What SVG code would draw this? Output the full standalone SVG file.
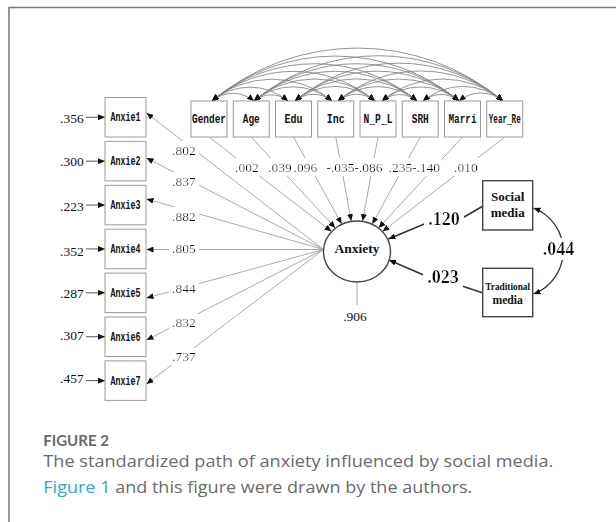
<svg xmlns="http://www.w3.org/2000/svg" width="616" height="522" viewBox="0 0 616 522">
<defs>
<style>
.box{fill:#fff;stroke:#9a9a9a;stroke-width:1}
.sbox{fill:#fff;stroke:#444;stroke-width:1.4}
.mono{font-family:"Liberation Mono","DejaVu Sans Mono",monospace;font-weight:bold;font-size:12.5px;fill:#111;text-anchor:middle}
.num{font-family:"Liberation Serif","Times New Roman",serif;font-size:13.5px;fill:#111}
.bnum{font-family:"Liberation Serif","Times New Roman",serif;font-size:18px;font-weight:bold;fill:#111}
.bold{font-family:"Liberation Serif","Times New Roman",serif;font-weight:bold;fill:#111;text-anchor:middle}
.lbl{filter:url(#bg)}
.lbl0{filter:url(#bg0)}
.arc{fill:none;stroke:#7a7a7a;stroke-width:0.8;marker-start:url(#ah);marker-end:url(#ah)}
.path{fill:none;stroke:#aaa;stroke-width:1;marker-end:url(#ah)}
.strong{fill:none;stroke:#333;stroke-width:1.5;marker-end:url(#ah)}
.err{fill:none;stroke:#555;stroke-width:1;marker-end:url(#ah)}
.cap{font-family:"Open Sans",Lato,"Liberation Sans",sans-serif;font-size:16.5px;fill:#6a6a6a}
</style>
<marker id="ah" viewBox="0 0 7 6" refX="7" refY="3" markerWidth="7" markerHeight="6" markerUnits="userSpaceOnUse" orient="auto-start-reverse">
<path d="M0,0 L7,3 L0,6 z" fill="#111"/>
</marker>
<filter id="bg" x="-0.12" y="-0.05" width="1.24" height="1.1">
<feFlood flood-color="#fff"/>
<feComposite in="SourceGraphic" operator="over"/>
</filter>
<filter id="bg0" x="0" y="-0.05" width="1" height="1.1">
<feFlood flood-color="#fff"/>
<feComposite in="SourceGraphic" operator="over"/>
</filter>
</defs>
<rect width="616" height="522" fill="#fff"/>
<path d="M9,522 V7.5 H616" fill="none" stroke="#777" stroke-width="1.5"/>

<g id="connectors">
<path class="arc" d="M212,101 A32.7,32.7 0 0 1 254,101"/>
<path class="arc" d="M212,101 A59.1,59.1 0 0 1 288,101"/>
<path class="arc" d="M212,101 A93.4,93.4 0 0 1 332,101"/>
<path class="arc" d="M212,101 A126.8,126.8 0 0 1 375,101"/>
<path class="arc" d="M212,101 A159.5,159.5 0 0 1 417,101"/>
<path class="arc" d="M212,101 A192.2,192.2 0 0 1 459,101"/>
<path class="arc" d="M212,101 A226.4,226.4 0 0 1 503,101"/>
<path class="arc" d="M254,101 A26.5,26.5 0 0 1 288,101"/>
<path class="arc" d="M254,101 A60.7,60.7 0 0 1 332,101"/>
<path class="arc" d="M254,101 A94.1,94.1 0 0 1 375,101"/>
<path class="arc" d="M254,101 A126.8,126.8 0 0 1 417,101"/>
<path class="arc" d="M254,101 A159.5,159.5 0 0 1 459,101"/>
<path class="arc" d="M254,101 A193.7,193.7 0 0 1 503,101"/>
<path class="arc" d="M295,101 A28.8,28.8 0 0 1 332,101"/>
<path class="arc" d="M295,101 A62.2,62.2 0 0 1 375,101"/>
<path class="arc" d="M295,101 A94.9,94.9 0 0 1 417,101"/>
<path class="arc" d="M295,101 A127.6,127.6 0 0 1 459,101"/>
<path class="arc" d="M295,101 A161.8,161.8 0 0 1 503,101"/>
<path class="arc" d="M338,101 A28.8,28.8 0 0 1 375,101"/>
<path class="arc" d="M338,101 A61.5,61.5 0 0 1 417,101"/>
<path class="arc" d="M338,101 A94.1,94.1 0 0 1 459,101"/>
<path class="arc" d="M338,101 A128.4,128.4 0 0 1 503,101"/>
<path class="arc" d="M382,101 A27.2,27.2 0 0 1 417,101"/>
<path class="arc" d="M382,101 A59.9,59.9 0 0 1 459,101"/>
<path class="arc" d="M382,101 A94.1,94.1 0 0 1 503,101"/>
<path class="arc" d="M423,101 A28,28 0 0 1 459,101"/>
<path class="arc" d="M423,101 A62.2,62.2 0 0 1 503,101"/>
<path class="arc" d="M459,101 A34.2,34.2 0 0 1 503,101"/>
<path class="path" d="M209,137 L331.5,231.5"/>
<path class="path" d="M251.25,137 L335.3,228"/>
<path class="path" d="M293.5,137 L341.7,224"/>
<path class="path" d="M335.75,137 L351.3,221"/>
<path class="path" d="M378,137 L362.6,221"/>
<path class="path" d="M420.25,137 L372.3,224"/>
<path class="path" d="M462.5,137 L378.6,228"/>
<path class="path" d="M504.75,137 L382.5,231.5"/>
<path class="path" d="M323.5,249.5 L146.5,113"/>
<path class="path" d="M323.5,249.5 L146.5,158"/>
<path class="path" d="M323.5,249.5 L146.5,199"/>
<path class="path" d="M323.5,249.5 L146.5,249.5"/>
<path class="path" d="M323.5,249.5 L146.5,298"/>
<path class="path" d="M323.5,249.5 L146.5,340"/>
<path class="path" d="M323.5,249.5 L146.5,384"/>
<path class="err" d="M86,117.25 L105,117.25"/>
<path class="err" d="M86,161.15 L105,161.15"/>
<path class="err" d="M86,205.05 L105,205.05"/>
<path class="err" d="M86,248.95 L105,248.95"/>
<path class="err" d="M86,292.85 L105,292.85"/>
<path class="err" d="M86,336.75 L105,336.75"/>
<path class="err" d="M86,380.65 L105,380.65"/>
<path d="M357,282 L357,305" fill="none" stroke="#aaa" stroke-width="1"/>
<path class="strong" d="M483,206 L459,220 M429,222 L388.5,239"/>
<path class="strong" d="M483,293 L459,285 M427,276.5 L389,260"/>
<path class="arc" style="stroke:#333;stroke-width:1.3" d="M533.5,208 A46,46 0 0 1 533.5,294"/>
</g>

<g id="connector-labels">
<text class="num lbl0" x="235" y="171.5">.002</text>
<text class="num lbl0" x="268" y="171.5">.039</text>
<text class="num lbl0" x="293.5" y="171.5">.096</text>
<text class="num lbl0" x="326.5" y="171.5">-.035</text>
<text class="num lbl0" x="354.5" y="171.5">-.086</text>
<text class="num lbl0" x="388.5" y="171.5">.235</text>
<text class="num lbl0" x="412" y="171.5">-.140</text>
<text class="num lbl0" x="454" y="171.5">.010</text>
<text class="num lbl" x="172" y="154.5">.802</text>
<text class="num lbl" x="172" y="185.5">.837</text>
<text class="num lbl" x="172" y="220.5">.882</text>
<text class="num lbl" x="172" y="253">.805</text>
<text class="num lbl" x="172" y="293">.844</text>
<text class="num lbl" x="172" y="327">.832</text>
<text class="num lbl" x="172" y="361">.737</text>
<text class="num" x="60" y="122.8">.356</text>
<text class="num" x="60" y="166.2">.300</text>
<text class="num" x="60" y="210.5">.223</text>
<text class="num" x="60" y="255.5">.352</text>
<text class="num" x="60" y="297.8">.287</text>
<text class="num" x="60" y="339.5">.307</text>
<text class="num" x="60" y="382.8">.457</text>
<text class="num" x="355" y="320.5" text-anchor="middle">.906</text>
<text class="bnum lbl" x="428.3" y="225">.120</text>
<text class="bnum lbl" x="427.3" y="283">.023</text>
<text class="bnum lbl" x="542.7" y="255">.044</text>
</g>

<g id="node-gender"><rect class="box" x="191" y="101" width="36" height="36"/><text class="mono" x="209" y="123" textLength="34" lengthAdjust="spacingAndGlyphs">Gender</text></g>
<g id="node-age"><rect class="box" x="233.25" y="101" width="36" height="36"/><text class="mono" x="251.25" y="123" textLength="17" lengthAdjust="spacingAndGlyphs">Age</text></g>
<g id="node-edu"><rect class="box" x="275.5" y="101" width="36" height="36"/><text class="mono" x="293.5" y="123" textLength="18" lengthAdjust="spacingAndGlyphs">Edu</text></g>
<g id="node-inc"><rect class="box" x="317.75" y="101" width="36" height="36"/><text class="mono" x="335.75" y="123" textLength="18" lengthAdjust="spacingAndGlyphs">Inc</text></g>
<g id="node-npl"><rect class="box" x="360" y="101" width="36" height="36"/><text class="mono" x="378" y="123" textLength="29" lengthAdjust="spacingAndGlyphs">N_P_L</text></g>
<g id="node-srh"><rect class="box" x="402.25" y="101" width="36" height="36"/><text class="mono" x="420.25" y="123" textLength="17" lengthAdjust="spacingAndGlyphs">SRH</text></g>
<g id="node-marri"><rect class="box" x="444.5" y="101" width="36" height="36"/><text class="mono" x="462.5" y="123" textLength="28" lengthAdjust="spacingAndGlyphs">Marri</text></g>
<g id="node-yearre"><rect class="box" x="486.75" y="101" width="36" height="36"/><text class="mono" x="504.75" y="123" textLength="32" lengthAdjust="spacingAndGlyphs">Year_Re</text></g>

<g id="node-anxie1"><rect class="box" x="105" y="97.5" width="41" height="39.5"/><text class="mono" x="125.5" y="121.25" textLength="30" lengthAdjust="spacingAndGlyphs">Anxie1</text></g>
<g id="node-anxie2"><rect class="box" x="105" y="141.4" width="41" height="39.5"/><text class="mono" x="125.5" y="165.15" textLength="30" lengthAdjust="spacingAndGlyphs">Anxie2</text></g>
<g id="node-anxie3"><rect class="box" x="105" y="185.3" width="41" height="39.5"/><text class="mono" x="125.5" y="209.05" textLength="30" lengthAdjust="spacingAndGlyphs">Anxie3</text></g>
<g id="node-anxie4"><rect class="box" x="105" y="229.2" width="41" height="39.5"/><text class="mono" x="125.5" y="252.95" textLength="30" lengthAdjust="spacingAndGlyphs">Anxie4</text></g>
<g id="node-anxie5"><rect class="box" x="105" y="273.1" width="41" height="39.5"/><text class="mono" x="125.5" y="296.85" textLength="30" lengthAdjust="spacingAndGlyphs">Anxie5</text></g>
<g id="node-anxie6"><rect class="box" x="105" y="317" width="41" height="39.5"/><text class="mono" x="125.5" y="340.75" textLength="30" lengthAdjust="spacingAndGlyphs">Anxie6</text></g>
<g id="node-anxie7"><rect class="box" x="105" y="360.9" width="41" height="39.5"/><text class="mono" x="125.5" y="384.65" textLength="30" lengthAdjust="spacingAndGlyphs">Anxie7</text></g>

<g id="node-anxiety"><ellipse cx="357" cy="251.5" rx="33.5" ry="30.5" fill="#fff" stroke="#444" stroke-width="1.4"/><text class="bold" x="357" y="253" font-size="13.5">Anxiety</text></g>
<g id="node-social"><rect class="sbox" x="482.7" y="180.7" width="50" height="49.3"/><text class="bold" x="507.7" y="201" font-size="13">Social</text><text class="bold" x="507.7" y="217" font-size="13">media</text></g>
<g id="node-traditional"><rect class="sbox" x="482.7" y="268.3" width="50" height="48.4"/><text class="bold" x="507.7" y="290" font-size="9.3">Traditional</text><text class="bold" x="507.7" y="303.5" font-size="11.7">media</text></g>

<g id="caption">
<text x="43.3" y="446" font-family="Lato,'Open Sans','Liberation Sans',sans-serif" font-size="15" font-weight="bold" fill="#6a6a6a">FIGURE 2</text>
<text class="cap" x="43.3" y="466.5" textLength="510" lengthAdjust="spacingAndGlyphs">The standardized path of anxiety influenced by social media.</text>
<text class="cap" x="43.3" y="493.3" textLength="429" lengthAdjust="spacingAndGlyphs"><tspan fill="#2aaac8">Figure 1</tspan> and this figure were drawn by the authors.</text>
</g>
</svg>
